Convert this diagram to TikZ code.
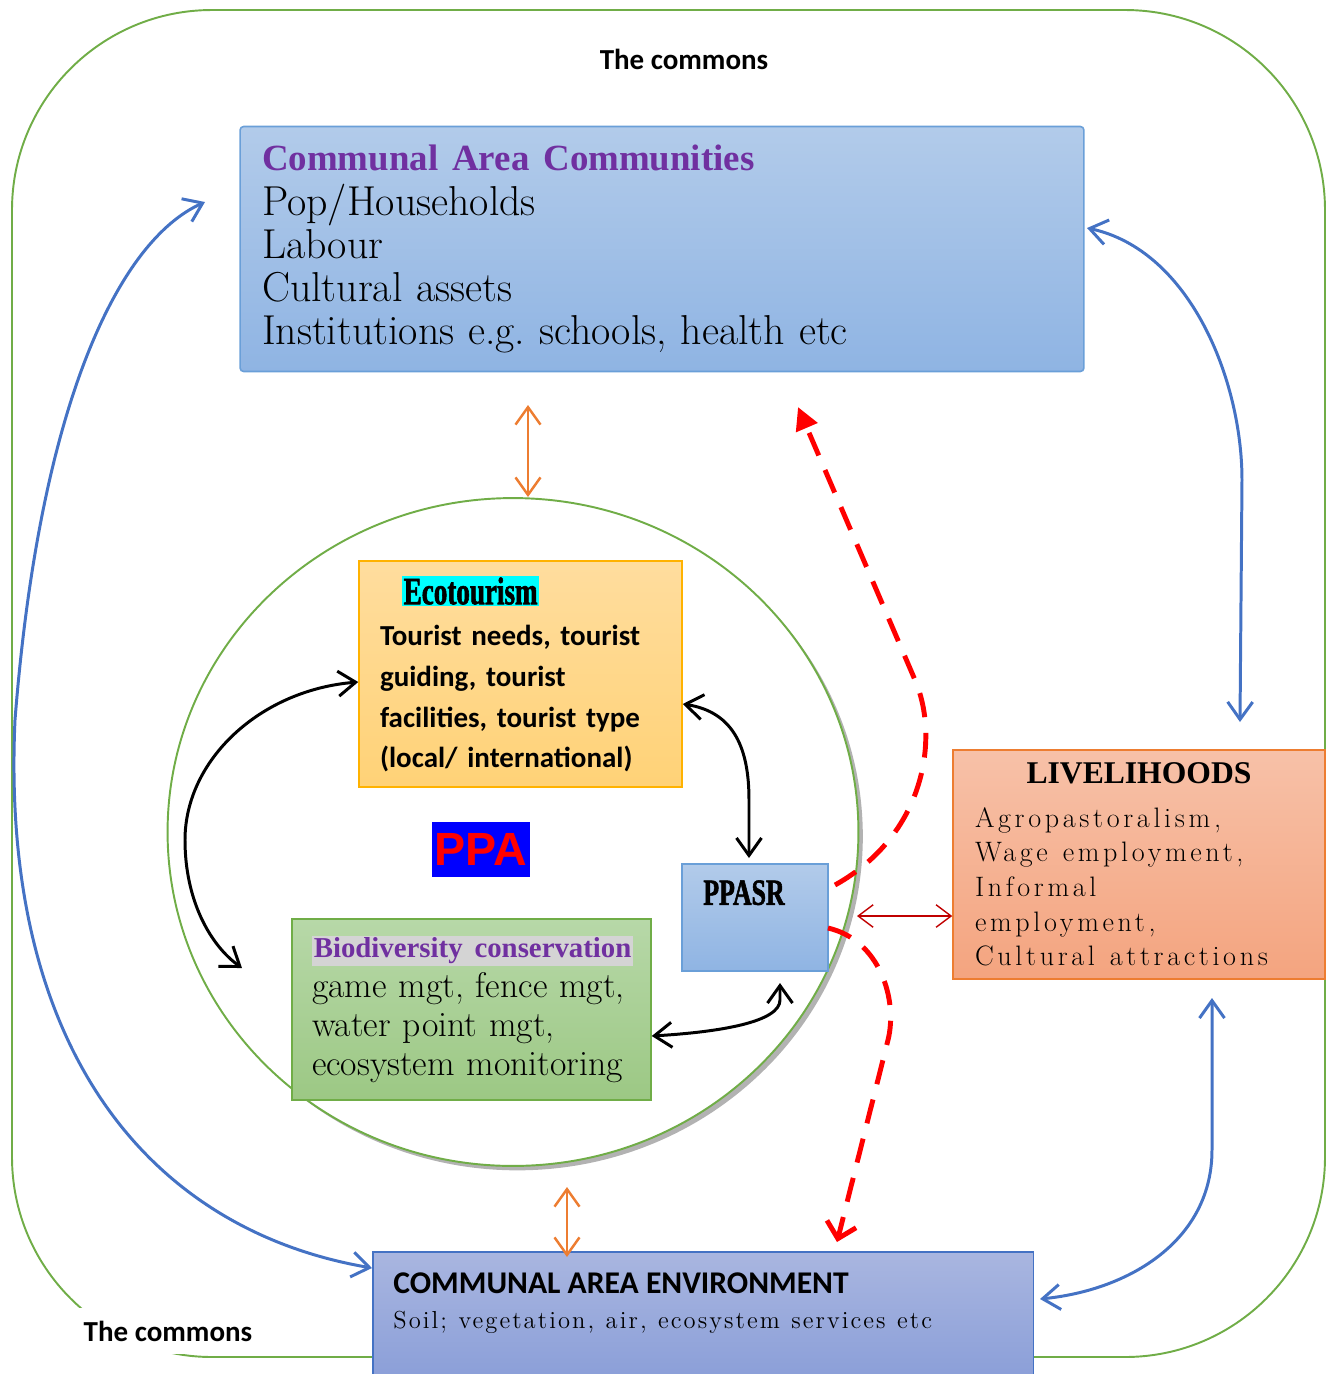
\documentclass[tikz,border=0pt]{standalone}
\usepackage{fontspec}
\usepackage{tikz}
\usetikzlibrary{arrows.meta}
\usetikzlibrary{shapes.geometric}
\usetikzlibrary{shadows}

\newfontfamily\calibrifont{Carlito}
\newfontfamily\arialfont{Liberation Sans}
\newfontfamily\titlefont{Liberation Serif}
\newfontfamily\condfont[FakeStretch=0.7, BoldFeatures={FakeBold=1.5}]{Liberation Serif}
\newfontfamily\spacedfont[LetterSpace=13]{Latin Modern Roman}
\setlength{\fboxsep}{1pt}
\frenchspacing

\definecolor{commonsgreen}{HTML}{70AD47}
\definecolor{msblue}{HTML}{4472C4}
\definecolor{msorange}{HTML}{ED7D31}
\definecolor{mspurple}{HTML}{7030A0}
\definecolor{darkred}{HTML}{C00000}
\definecolor{hlgray}{HTML}{D4D4D4}
\definecolor{hlcyan}{HTML}{00FFFF}
\definecolor{cactop}{HTML}{B2CBEA}
\definecolor{cacbot}{HTML}{8FB4E3}
\definecolor{cacline}{HTML}{6A9FD8}
\definecolor{ecotop}{HTML}{FFDD9E}
\definecolor{ecobot}{HTML}{FFD277}
\definecolor{biotop}{HTML}{B7D8A8}
\definecolor{biobot}{HTML}{9CC884}
\definecolor{livtop}{HTML}{F7C1A8}
\definecolor{livbot}{HTML}{F4A47F}
\definecolor{envtop}{HTML}{A9B6E0}
\definecolor{envbot}{HTML}{8A9ED8}

\begin{document}
\begin{tikzpicture}[x=0.02cm, y=-0.02cm,
>={Straight Barb[length=3.5mm,width=5mm]},
bluesquarednode/.style={rectangle, draw=cacline, line width=0.9pt, top color=cactop, bottom color=cacbot},
yellowsquarednode/.style={rectangle, draw=orange!60!yellow, line width=0.9pt, top color=ecotop, bottom color=ecobot},
greensquarednode/.style={rectangle, draw=commonsgreen, line width=0.9pt, top color=biotop, bottom color=biobot},
orangesquarednode/.style={rectangle, draw=msorange, line width=0.9pt, top color=livtop, bottom color=livbot},
envsquarednode/.style={rectangle, draw=msblue, line width=0.9pt, top color=envtop, bottom color=envbot},
commons/.style={font=\calibrifont\bfseries\fontsize{16.5}{18}\selectfont},
bluearrow/.style={<->, draw=msblue, line width=1.7pt},
blackarrow/.style={<->, draw=black, line width=1.7pt},
orangearrow/.style={<->, draw=msorange, line width=1.4pt},
redarrow/.style={<->, draw=darkred, line width=0.8pt, >={Straight Barb[length=3mm,width=4.5mm]}},
reddash/.style={draw=red, line width=2.8pt, dash pattern=on 14pt off 9pt}
]
\useasboundingbox (0,0) rectangle (1333,1374);

%The commons
\draw[commonsgreen, line width=1.1pt, rounded corners=4cm] (12,10) rectangle (1325,1357);
\node[commons] (COMMONS-TOP) at (684,59) {The commons};
\node[commons, fill=white, inner sep=7pt] (COMMONS-BOTTOM) at (168,1331) {The commons};

%PPA circle
\node[ellipse, draw=commonsgreen, line width=1.1pt, fill=white, minimum width=13.82cm, minimum height=13.36cm,
  drop shadow={shadow xshift=2.5pt, shadow yshift=-2.5pt, opacity=0.3, fill=black}] (CIRCLE) at (513,832) {};

%Nodes
\node[bluesquarednode, rounded corners=2pt, minimum width=16.88cm, minimum height=4.9cm, inner xsep=0.44cm, text width=16cm, align=left,
  font=\fontsize{23.8}{24.5}\selectfont] (CAC) at (662,249)
  {{\titlefont\fontsize{21}{24.5}\selectfont\bfseries\color{mspurple}Communal Area Communities}\\[1pt]
   Pop/Households\\
   Labour\\
   Cultural assets\\
   Institutions e.g. schools, health etc};

\node[yellowsquarednode, minimum width=6.46cm, minimum height=4.52cm, inner xsep=0.42cm, text width=5.62cm, align=left,
  font=\calibrifont\bfseries\fontsize{16.5}{23.3}\selectfont] (ECO) at (520.5,674)
  {\hspace*{0.44cm}\colorbox{hlcyan}{\condfont\bfseries\fontsize{22}{23.3}\selectfont Ecotourism}\\
   Tourist needs, tourist\\
   guiding, tourist\\
   facilities, tourist type\\
   (local/ international)};

\node[fill=blue, text=red, inner sep=0, minimum width=1.96cm, minimum height=1.1cm,
  font=\arialfont\bfseries\fontsize{26.5}{26.5}\selectfont] (PPA) at (481,849.5) {PPA};

\node[greensquarednode, minimum width=7.18cm, minimum height=3.62cm, inner xsep=0.4cm, text width=6.38cm, align=left,
  font=\fontsize{20.3}{22.3}\selectfont] (BIO) at (471.5,1009.5)
  {\colorbox{hlgray}{\titlefont\fontsize{16.4}{22.3}\selectfont\bfseries\color{mspurple}Biodiversity conservation}\\
   game mgt, fence mgt,\\
   water point mgt,\\
   ecosystem monitoring};

\node[bluesquarednode, minimum width=2.92cm, minimum height=2.14cm] (PPASR) at (755,917.5) {};
\node[anchor=north west, inner sep=0, font=\condfont\bfseries\fontsize{21}{21}\selectfont] (PPASR-LABEL) at (703,880) {PPASR};

\node[orangesquarednode, minimum width=7.44cm, minimum height=4.58cm, inner xsep=0.44cm, text width=6.56cm, align=left,
  font=\spacedfont\fontsize{16}{19.7}\selectfont] (LIV) at (1139,864.5)
  {\makebox[\linewidth][c]{\titlefont\bfseries\fontsize{18}{19.7}\selectfont LIVELIHOODS}\\[5pt]
   \spaceskip=8.5pt\relax
   Agropastoralism,\\
   Wage employment,\\
   Informal\\
   employment,\\
   Cultural attractions};

\node[envsquarednode, anchor=north west, minimum width=13.22cm, minimum height=2.6cm] (ENV) at (372,1251) {};
\node[anchor=north west, inner sep=0, align=left, font=\fontsize{14}{20}\selectfont] (ENV-TEXT) at (393,1272)
  {{\calibrifont\bfseries\fontsize{18}{20}\selectfont COMMUNAL AREA ENVIRONMENT}\\
   \spacedfont\addfontfeatures{LetterSpace=8.4}\spaceskip=6.5pt\relax Soil; vegetation, air, ecosystem services etc};

%Lines
\coordinate (CAC-BELOW) at (528,405);
\coordinate (CIRCLE-TOP) at (528,497);
\coordinate (CIRCLE-BELOW) at (567,1187);
\coordinate (ENV-TOP) at (567,1257);
\draw[orangearrow] (CAC-BELOW) -- (CIRCLE-TOP);
\draw[orangearrow] (CIRCLE-BELOW) -- (ENV-TOP);

\coordinate (CAC-LEFT) at (205,202);
\coordinate (ENV-LEFT) at (372,1268);
\draw[bluearrow] (CAC-LEFT) .. controls (120,240) and (40,400) .. (15,720) .. controls (0,1050) and (150,1230) .. (ENV-LEFT);

\coordinate (CAC-RIGHT) at (1087,228);
\coordinate (LIV-ABOVE) at (1240,722);
\draw[bluearrow] (CAC-RIGHT) .. controls (1190,250) and (1242,380) .. (1242,480) -- (LIV-ABOVE);

\coordinate (LIV-BELOW) at (1212,998);
\coordinate (ENV-RIGHT) at (1040,1299);
\draw[bluearrow] (LIV-BELOW) -- (1212,1150) .. controls (1212,1240) and (1130,1290) .. (ENV-RIGHT);

\coordinate (PPASR-UP) at (835,885);
\coordinate (CAC-DASH) at (798,407);
\draw[reddash, -{Triangle[length=4.5mm,width=4.5mm]}] (PPASR-UP) .. controls (925,835) and (940,738) .. (915,680) -- (CAC-DASH);

\coordinate (PPASR-DOWN) at (828,928);
\coordinate (ENV-DASH) at (837,1242);
\draw[reddash, -{Straight Barb[length=3mm,width=6mm]}] (PPASR-DOWN) .. controls (880,940) and (898,1000) .. (888,1040) -- (ENV-DASH);

\coordinate (PPASR-RIGHT) at (857,916);
\draw[redarrow] (PPASR-RIGHT) -- (LIV.west |- PPASR-RIGHT);

\coordinate (PPASR-TOP) at (749,858);
\draw[blackarrow] ([yshift=-0.6cm]ECO.east) .. controls (735,712) and (749,750) .. (749,800) -- (PPASR-TOP);

\coordinate (BIO-LEFT) at (242,968);
\draw[blackarrow] ([yshift=-0.16cm]ECO.west) .. controls (260,690) and (185,760) .. (185,840) .. controls (185,900) and (210,945) .. (BIO-LEFT);

\coordinate (PPASR-BOTTOM) at (780,983);
\draw[blackarrow] ([yshift=-0.53cm]BIO.east) .. controls (720,1032) and (780,1022) .. (780,1000) -- (PPASR-BOTTOM);
\end{tikzpicture}
\end{document}
